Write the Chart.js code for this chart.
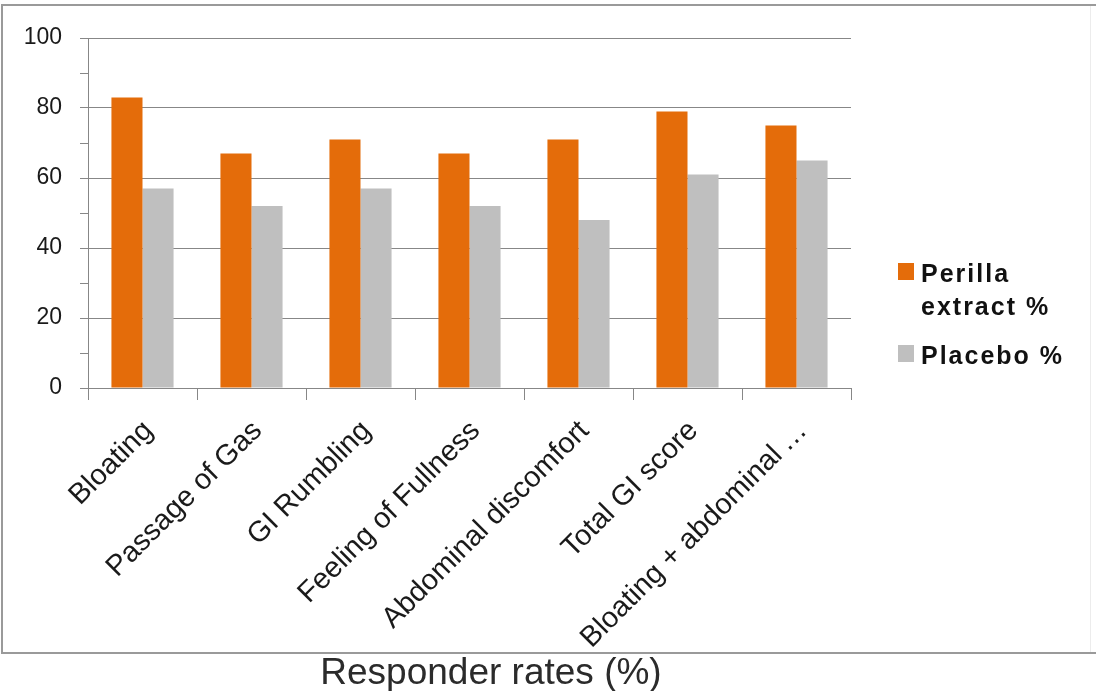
<!DOCTYPE html>
<html>
<head>
<meta charset="utf-8">
<title>Responder rates (%)</title>
<script src="https://cdn.jsdelivr.net/npm/chart.js@4/dist/chart.umd.min.js"></script>
<style>
  html, body { margin: 0; padding: 0; background: #ffffff; }
  #chart { display: block; }
</style>
</head>
<body>
<canvas id="chart" width="1096" height="691"></canvas>
<script>
// Symptom categories along the x axis
const categories = [
  'Bloating',
  'Passage of Gas',
  'GI Rumbling',
  'Feeling of Fullness',
  'Abdominal discomfort',
  'Total GI score',
  'Bloating + abdominal\u2009\u2026'
];

// Responder rates (%) per group
const perillaPct = [83, 67, 71, 67, 71, 79, 75];
const placeboPct = [57, 52, 57, 52, 48, 61, 65];

// Series names and how they wrap in the legend
const seriesNames = ['Perilla extract %', 'Placebo %'];
const legendLines = [['Perilla', 'extract %'], ['Placebo %']];

// Value axis range and steps (labels on every second step)
const yMin = 0;
const yMax = 100;
const yStep = 10;
const yLabelStep = 20;

const captionText = 'Responder rates (%)';

const ORANGE = '#E46C0A';
const GREY = '#BFBFBF';
const AXIS = '#878787';
const FONT = "'Liberation Sans', Arial, sans-serif";

// Frame, legend and caption drawn around the plot
const framePlugin = {
  id: 'frame',
  beforeDraw(chart) {
    const ctx = chart.ctx;
    ctx.save();
    ctx.fillStyle = '#ffffff';
    ctx.fillRect(0, 0, chart.width, chart.height);
    ctx.restore();
  },
  afterDraw(chart) {
    const ctx = chart.ctx;
    ctx.save();

    // outer frame
    ctx.strokeStyle = '#9a9a9a';
    ctx.lineWidth = 2;
    ctx.beginPath();
    ctx.moveTo(1096, 5);
    ctx.lineTo(2, 5);
    ctx.lineTo(2, 653);
    ctx.lineTo(1096, 653);
    ctx.stroke();
    ctx.strokeStyle = '#ececec';
    ctx.lineWidth = 1;
    ctx.beginPath();
    ctx.moveTo(1090.5, 6);
    ctx.lineTo(1090.5, 652);
    ctx.stroke();

    // legend
    const sets = chart.data.datasets;
    const boxX = 898, boxSize = 16, textX = 921;
    const firstBaselines = [282, 364];
    const lineGap = 33;
    ctx.font = "bold 25px " + FONT;
    ctx.letterSpacing = '2px';
    ctx.textAlign = 'left';
    ctx.textBaseline = 'alphabetic';
    sets.forEach((ds, i) => {
      const base = firstBaselines[i];
      ctx.fillStyle = ds.backgroundColor;
      ctx.fillRect(boxX, base - 19, boxSize, boxSize + 1);
      ctx.fillStyle = '#111111';
      legendLines[i].forEach((line, j) => {
        ctx.fillText(line, textX, base + j * lineGap);
      });
    });
    ctx.letterSpacing = '0px';

    // caption under the frame
    ctx.font = "37px " + FONT;
    ctx.fillStyle = '#2b2b2b';
    ctx.textAlign = 'center';
    ctx.fillText(captionText, 491, 684);

    ctx.restore();
  }
};

new Chart(document.getElementById('chart'), {
  type: 'bar',
  data: {
    labels: categories,
    datasets: [
      {
        label: seriesNames[0],
        data: perillaPct,
        backgroundColor: ORANGE,
        borderWidth: 0,
        categoryPercentage: 0.57,
        barPercentage: 1.0
      },
      {
        label: seriesNames[1],
        data: placeboPct,
        backgroundColor: GREY,
        borderWidth: 0,
        categoryPercentage: 0.57,
        barPercentage: 1.0
      }
    ]
  },
  options: {
    responsive: false,
    animation: false,
    devicePixelRatio: 1,
    layout: { padding: { left: 0, top: 38, right: 245, bottom: 0 } },
    plugins: {
      legend: { display: false },
      tooltip: { enabled: false },
      title: { display: false }
    },
    scales: {
      x: {
        afterFit(scale) { scale.height = 303; },
        grid: {
          display: true,
          drawOnChartArea: false,
          drawTicks: true,
          tickLength: 12,
          tickColor: AXIS,
          offset: true
        },
        border: { display: true, color: AXIS, width: 1 },
        ticks: {
          autoSkip: false,
          maxRotation: 45,
          minRotation: 45,
          padding: 14,
          labelOffset: 6,
          color: '#1a1a1a',
          font: { family: FONT, size: 29 }
        }
      },
      y: {
        min: yMin,
        max: yMax,
        afterFit(scale) { scale.width = 88; },
        grid: {
          color: (c) => (c.tick && c.tick.value % yLabelStep === 0) ? AXIS : 'rgba(0,0,0,0)',
          tickColor: AXIS,
          tickLength: 8,
          lineWidth: 1
        },
        border: { display: true, color: AXIS, width: 1 },
        ticks: {
          stepSize: yStep,
          padding: 18,
          color: '#1a1a1a',
          font: { family: FONT, size: 23 },
          callback: (v) => (v % yLabelStep === 0 ? String(v) : '')
        }
      }
    }
  },
  plugins: [framePlugin]
});
</script>
</body>
</html>
